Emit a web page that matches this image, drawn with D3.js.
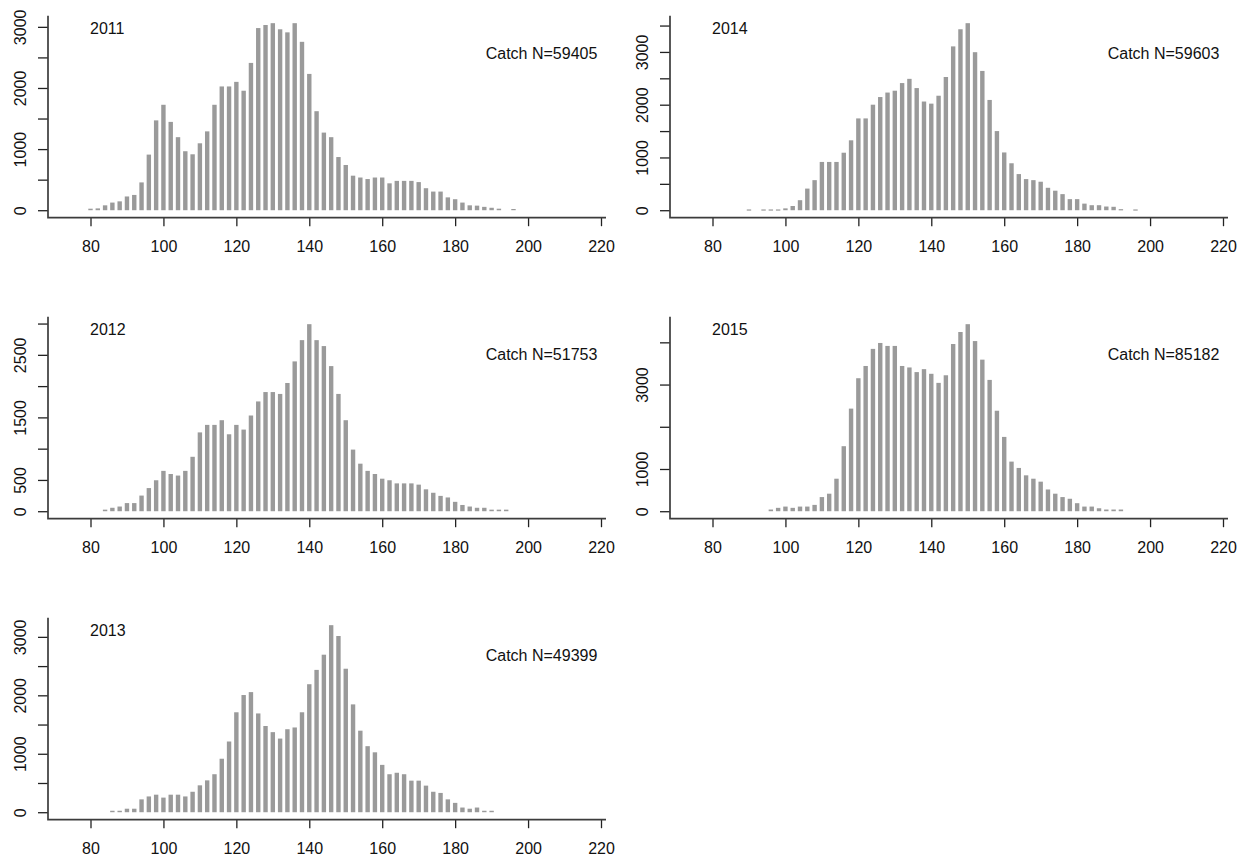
<html>
<head>
    <meta charset="UTF-8">
    <title>Catch length frequency</title>
    <script src="https://d3js.org/d3.v7.min.js"></script>
    <style>
        body { margin: 0; background: #fff; }
        svg text { font-family: "Liberation Sans", Arial, sans-serif; font-size: 16px; fill: #111; }
        .bars rect { fill: #9a9a9a; }
        .axis path { stroke: none; }
        .axis line { stroke: #222; stroke-width: 1.3px; }
        .frame { stroke: #3c3c3c; stroke-width: 1.7px; fill: none; }
    </style>
</head>
<body>
    <svg width="1247" height="863"></svg>
    <script>
        // length bins (centre, cm) shared by every year
        var lengthBins = [80, 82, 84, 86, 88, 90, 92, 94, 96, 98,
                          100, 102, 104, 106, 108, 110, 112, 114, 116, 118,
                          120, 122, 124, 126, 128, 130, 132, 134, 136, 138,
                          140, 142, 144, 146, 148, 150, 152, 154, 156, 158,
                          160, 162, 164, 166, 168, 170, 172, 174, 176, 178,
                          180, 182, 184, 186, 188, 190, 192, 194, 196];

        var years = ['2011', '2012', '2013', '2014', '2015'];
        var catchN = [59405, 51753, 49399, 59603, 85182];

        var counts2011 = [25, 30, 80, 125, 145, 225, 250, 455, 910, 1470,
                          1725, 1445, 1195, 965, 915, 1095, 1290, 1725, 2025, 2025,
                          2100, 1955, 2410, 2980, 3030, 3060, 2960, 2910, 3060, 2755,
                          2230, 1620, 1270, 1195, 870, 740, 565, 535, 510, 535,
                          535, 440, 480, 480, 480, 460, 360, 305, 305, 210,
                          180, 125, 80, 75, 55, 40, 25, 0, 20];
        var counts2012 = [0, 0, 25, 55, 75, 130, 130, 250, 370, 495,
                          645, 595, 570, 645, 870, 1260, 1380, 1380, 1455, 1230,
                          1380, 1305, 1530, 1755, 1905, 1905, 1875, 2050, 2395, 2735,
                          2990, 2735, 2640, 2320, 1875, 1455, 985, 760, 645, 595,
                          520, 495, 445, 445, 445, 425, 350, 295, 245, 220,
                          150, 100, 75, 55, 55, 25, 25, 25, 0];
        var counts2013 = [0, 0, 0, 25, 25, 60, 60, 220, 270, 300,
                          250, 300, 300, 270, 350, 460, 545, 650, 915, 1210,
                          1710, 2005, 2055, 1690, 1475, 1370, 1260, 1420, 1450, 1710,
                          2190, 2435, 2695, 3200, 3015, 2455, 1845, 1395, 1130, 1025,
                          810, 650, 675, 650, 540, 540, 455, 350, 330, 220,
                          160, 80, 60, 80, 25, 25, 0, 0, 0];
        var counts2014 = [0, 0, 0, 0, 0, 15, 0, 15, 15, 15,
                          35, 80, 190, 410, 570, 915, 915, 915, 1090, 1325,
                          1740, 1740, 2000, 2145, 2230, 2265, 2410, 2490, 2315, 2060,
                          2020, 2170, 2525, 3105, 3430, 3545, 2995, 2640, 2090, 1500,
                          1095, 890, 685, 590, 570, 540, 425, 370, 305, 210,
                          210, 125, 95, 95, 70, 65, 20, 0, 15];
        var counts2015 = [0, 0, 0, 0, 0, 0, 0, 0, 40, 80,
                          110, 80, 110, 110, 150, 335, 415, 770, 1540, 2430,
                          3150, 3440, 3845, 3985, 3915, 3915, 3440, 3405, 3295, 3365,
                          3255, 3040, 3220, 3960, 4245, 4430, 4030, 3590, 3110, 2380,
                          1760, 1175, 1025, 850, 770, 700, 515, 415, 335, 295,
                          190, 110, 110, 70, 40, 40, 40, 0, 0];

        var xTicks = [80, 100, 120, 140, 160, 180, 200, 220];
        var yTickStep = [500, 500, 500, 500, 1000];
        var yLabels = [[0, 1000, 2000, 3000], [0, 500, 1500, 2500], [0, 1000, 2000, 3000],
                       [0, 1000, 2000, 3000], [0, 1000, 3000]];

        var allCounts = [counts2011, counts2012, counts2013, counts2014, counts2015];
        // panel grid: years go down the left column first
        var panelCol = [0, 0, 0, 1, 1],
            panelRow = [0, 1, 2, 0, 1];

        var svg = d3.select('svg'),
            colWidth = 622,
            rowHeight = 301,
            plot = { left: 48, right: 606, top: 15.7, height: 202 };

        var x_scale = d3.scaleLinear().domain([80, 220]).range([90.5, 601]);

        years.forEach(function (year, i) {
            var counts = allCounts[i],
                maxCount = d3.max(counts),
                top = plot.top,
                bottom = plot.top + plot.height;

            var y_scale = d3.scaleLinear()
                .domain([-0.04 * maxCount, 1.04 * maxCount])
                .range([bottom, top]);

            var g = svg.append('g')
                .attr('transform', 'translate(' + (panelCol[i] * colWidth) + ',' + (panelRow[i] * rowHeight) + ')');

            var data = lengthBins.map(function (len, k) { return { len: len, n: counts[k] }; });

            g.append('g')
                .attr('class', 'bars')
                .selectAll('rect')
                .data(data.filter(function (d) { return d.n > 0; }))
                .enter()
                .append('rect')
                .attr('x', function (d) { return x_scale(d.len) - 2.2; })
                .attr('width', 4.4)
                .attr('y', function (d) { return y_scale(d.n); })
                .attr('height', function (d) { return Math.max(1.2, y_scale(0) - y_scale(d.n)); });

            // y axis: ticks every step, only some labels printed (R style)
            var labels = yLabels[i];
            var yAxis = g.append('g')
                .attr('class', 'axis axis-y')
                .attr('transform', 'translate(' + plot.left + ',0)')
                .call(d3.axisLeft(y_scale)
                    .tickValues(d3.range(0, 1.04 * maxCount, yTickStep[i]))
                    .tickSize(10)
                    .tickSizeOuter(0)
                    .tickFormat(function (d) { return labels.indexOf(d) >= 0 ? d : ''; }));
            yAxis.selectAll('text')
                .attr('transform', 'rotate(-90)')
                .attr('text-anchor', 'middle')
                .attr('x', 0)
                .attr('y', -22.5)
                .attr('dy', 0);

            var xAxis = g.append('g')
                .attr('class', 'axis axis-x')
                .attr('transform', 'translate(0,' + bottom + ')')
                .call(d3.axisBottom(x_scale)
                    .tickValues(xTicks)
                    .tickSize(8.5)
                    .tickSizeOuter(0));
            xAxis.selectAll('text')
                .attr('y', 34)
                .attr('dy', 0);

            // L shaped frame
            g.append('path')
                .attr('class', 'frame')
                .attr('d', 'M' + plot.left + ',' + top + 'V' + bottom + 'H' + plot.right);

            g.append('text')
                .attr('x', x_scale(80) - 0.5)
                .attr('y', top + 18.6)
                .text(year);

            g.append('text')
                .attr('x', x_scale(219))
                .attr('y', top + 43.3)
                .attr('text-anchor', 'end')
                .text('Catch N=' + catchN[i]);
        });
    </script>
</body>
</html>
